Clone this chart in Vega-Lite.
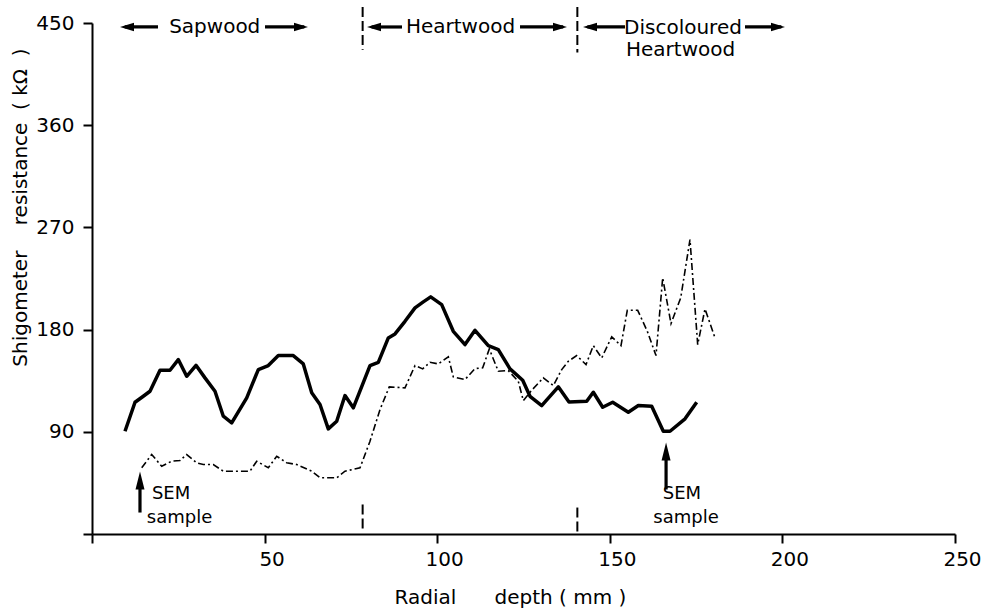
{
  "$schema": "https://vega.github.io/schema/vega-lite/v6.json",
  "width": 863,
  "height": 511,
  "autosize": {"type": "none"},
  "padding": {"left": 92, "top": 23, "right": 44, "bottom": 77},
  "background": "white",
  "config": {
    "view": {"stroke": null},
    "font": "DejaVu Sans",
    "axis": {
      "grid": false,
      "domainColor": "black",
      "domainWidth": 2,
      "tickColor": "black",
      "tickWidth": 2,
      "tickSize": 9,
      "labelColor": "black",
      "labelFont": "DejaVu Sans",
      "labelFontSize": 20,
      "labelFlush": false,
      "labelOverlap": false,
      "titleColor": "black",
      "titleFont": "DejaVu Sans",
      "titleFontSize": 20,
      "titleFontWeight": "normal"
    }
  },
  "datasets": {
    "thick": [
      {"d": 9.56, "r": 90.5}, {"d": 12.46, "r": 116.0}, {"d": 14.86, "r": 121.3}, {"d": 16.8, "r": 125.7},
      {"d": 19.7, "r": 144.2}, {"d": 22.6, "r": 144.2}, {"d": 25.0, "r": 153.6}, {"d": 27.43, "r": 138.9},
      {"d": 30.13, "r": 148.6}, {"d": 32.73, "r": 137.5}, {"d": 35.63, "r": 125.7}, {"d": 38.04, "r": 103.7},
      {"d": 40.47, "r": 97.9}, {"d": 44.82, "r": 119.9}, {"d": 48.18, "r": 144.8}, {"d": 51.07, "r": 148.3},
      {"d": 53.97, "r": 157.1}, {"d": 58.31, "r": 157.1}, {"d": 61.21, "r": 149.8}, {"d": 63.65, "r": 124.3},
      {"d": 66.05, "r": 114.0}, {"d": 68.45, "r": 92.6}, {"d": 70.89, "r": 99.3}, {"d": 73.29, "r": 121.9},
      {"d": 75.7, "r": 111.1}, {"d": 80.53, "r": 148.3}, {"d": 82.94, "r": 151.2}, {"d": 85.84, "r": 172.7},
      {"d": 87.78, "r": 176.2}, {"d": 90.67, "r": 187.3}, {"d": 93.57, "r": 199.1}, {"d": 95.97, "r": 204.4},
      {"d": 98.12, "r": 208.8}, {"d": 101.3, "r": 202.0}, {"d": 104.66, "r": 178.5}, {"d": 108.05, "r": 166.8},
      {"d": 110.95, "r": 179.4}, {"d": 114.8, "r": 165.9}, {"d": 117.7, "r": 162.4}, {"d": 121.09, "r": 145.4},
      {"d": 124.77, "r": 135.4}, {"d": 126.88, "r": 121.3}, {"d": 130.27, "r": 113.1}, {"d": 135.08, "r": 129.6},
      {"d": 138.18, "r": 116.2}, {"d": 143.31, "r": 116.9}, {"d": 145.22, "r": 124.8}, {"d": 147.94, "r": 111.6},
      {"d": 150.84, "r": 116.0}, {"d": 155.36, "r": 107.2}, {"d": 158.26, "r": 113.1}, {"d": 162.14, "r": 112.5},
      {"d": 165.5, "r": 90.5}, {"d": 167.44, "r": 90.5}, {"d": 171.79, "r": 101.4}, {"d": 175.17, "r": 116.0}
    ],
    "dashdot": [
      {"d": 14.4, "r": 58.3}, {"d": 17.29, "r": 70.0}, {"d": 20.19, "r": 59.7}, {"d": 23.09, "r": 64.1},
      {"d": 25.49, "r": 64.7}, {"d": 27.43, "r": 70.0}, {"d": 30.33, "r": 62.7}, {"d": 32.24, "r": 61.2},
      {"d": 35.14, "r": 61.2}, {"d": 38.04, "r": 55.3}, {"d": 45.77, "r": 55.3}, {"d": 47.71, "r": 64.1},
      {"d": 51.07, "r": 58.3}, {"d": 53.51, "r": 68.5}, {"d": 56.4, "r": 62.7}, {"d": 59.3, "r": 61.2},
      {"d": 63.65, "r": 55.3}, {"d": 66.05, "r": 49.5}, {"d": 70.89, "r": 49.5}, {"d": 73.29, "r": 55.3},
      {"d": 77.64, "r": 58.3}, {"d": 80.53, "r": 81.7}, {"d": 83.43, "r": 109.6}, {"d": 86.12, "r": 129.6},
      {"d": 90.67, "r": 128.7}, {"d": 93.57, "r": 148.3}, {"d": 95.8, "r": 145.4}, {"d": 97.91, "r": 151.2},
      {"d": 100.32, "r": 149.8}, {"d": 103.22, "r": 156.0}, {"d": 104.66, "r": 138.4}, {"d": 108.05, "r": 136.0},
      {"d": 110.95, "r": 145.7}, {"d": 113.18, "r": 146.3}, {"d": 115.09, "r": 163.0}, {"d": 117.7, "r": 143.3},
      {"d": 120.6, "r": 143.9}, {"d": 123.49, "r": 134.5}, {"d": 124.94, "r": 117.5}, {"d": 127.38, "r": 126.6},
      {"d": 130.74, "r": 137.5}, {"d": 133.63, "r": 130.7}, {"d": 136.07, "r": 144.8}, {"d": 137.98, "r": 152.1},
      {"d": 140.41, "r": 157.1}, {"d": 143.11, "r": 149.2}, {"d": 145.22, "r": 165.9}, {"d": 147.66, "r": 155.1},
      {"d": 150.55, "r": 173.6}, {"d": 153.24, "r": 165.9}, {"d": 155.07, "r": 197.0}, {"d": 158.08, "r": 197.0},
      {"d": 160.87, "r": 178.5}, {"d": 163.38, "r": 157.1}, {"d": 165.32, "r": 225.5}, {"d": 167.73, "r": 185.3},
      {"d": 170.54, "r": 207.9}, {"d": 173.23, "r": 259.2}, {"d": 175.46, "r": 166.8}, {"d": 177.58, "r": 198.2},
      {"d": 180.48, "r": 172.7}
    ],
    "bounds": [
      {"d": 78.4, "top": 464, "bot": 426.5},
      {"d": 140.6, "top": 464, "bot": 424},
      {"d": 78.4, "top": 26, "bot": 4},
      {"d": 140.6, "top": 23.3, "bot": 2.2}
    ],
    "hshafts": [
      {"a": 9.5, "b": 19.12, "r": 446.5},
      {"a": 50.12, "b": 61.5, "r": 446.5},
      {"a": 81.0, "b": 89.8, "r": 446.5},
      {"a": 123.99, "b": 136.5, "r": 446.5},
      {"a": 143.5, "b": 154.4, "r": 446.5},
      {"a": 189.17, "b": 199.7, "r": 446.5}
    ],
    "vshafts": [
      {"d": 13.9, "a": 18.9, "b": 46},
      {"d": 166.3, "a": 39.2, "b": 72}
    ],
    "heads": [
      {"d": 10.14, "r": 446.5, "s": "M-1,0L1,-0.6L1,0.6Z", "z": 196},
      {"d": 60.54, "r": 446.5, "s": "M1,0L-1,-0.6L-1,0.6Z", "z": 196},
      {"d": 81.69, "r": 446.5, "s": "M-1,0L1,-0.6L1,0.6Z", "z": 196},
      {"d": 135.57, "r": 446.5, "s": "M1,0L-1,-0.6L-1,0.6Z", "z": 196},
      {"d": 144.27, "r": 446.5, "s": "M-1,0L1,-0.6L1,0.6Z", "z": 196},
      {"d": 198.72, "r": 446.5, "s": "M1,0L-1,-0.6L-1,0.6Z", "z": 196},
      {"d": 13.9, "r": 47.1, "s": "M0,-1L-0.5,1L0.5,1Z", "z": 324},
      {"d": 166.3, "r": 72.6, "s": "M0,-1L-0.5,1L0.5,1Z", "z": 324}
    ],
    "toplabels": [
      {"d": 35.55, "r": 446.7, "t": "Sapwood"},
      {"d": 106.75, "r": 446.7, "t": "Heartwood"},
      {"d": 171.2, "r": 445.9, "t": "Discoloured"},
      {"d": 170.5, "r": 426.5, "t": "Heartwood"}
    ],
    "semlabels": [
      {"d": 22.9, "r": 35.2, "t": "SEM"},
      {"d": 25.35, "r": 14.5, "t": "sample"},
      {"d": 170.9, "r": 35.2, "t": "SEM"},
      {"d": 172.1, "r": 14.5, "t": "sample"}
    ]
  },
  "layer": [
    {
      "data": {"name": "thick"},
      "mark": {"type": "line", "color": "black", "strokeWidth": 3.5, "strokeJoin": "round"},
      "encoding": {
        "x": {
          "field": "d", "type": "quantitative",
          "scale": {"domain": [0, 250], "nice": false, "zero": false},
          "axis": {
            "values": [0, 50, 100, 150, 200, 250],
            "labelExpr": "datum.value == 0 ? '' : datum.label",
            "labelOffset": 7,
            "labelPadding": 6,
            "title": "Radial\u00a0\u00a0\u00a0\u00a0\u00a0\u00a0depth\u00a0(\u00a0mm\u00a0)",
            "titleX": 418,
            "titleY": 63,
            "titleAlign": "center",
            "titleBaseline": "middle"
          }
        },
        "y": {
          "field": "r", "type": "quantitative",
          "scale": {"domain": [0, 450], "nice": false, "zero": false},
          "axis": {
            "values": [0, 90, 180, 270, 360, 450],
            "labelExpr": "datum.value == 0 ? '' : datum.label",
            "labelPadding": 9,
            "title": "Shigometer\u00a0\u00a0\u00a0\u00a0resistance\u00a0\u00a0(\u00a0kΩ\u00a0\u00a0)",
            "titleX": -72,
            "titleY": 184,
            "titleAngle": 270,
            "titleAlign": "center",
            "titleBaseline": "middle"
          }
        }
      }
    },
    {
      "data": {"name": "dashdot"},
      "mark": {"type": "line", "color": "black", "strokeWidth": 1.6, "strokeDash": [7, 3, 2, 3]},
      "encoding": {
        "x": {"field": "d", "type": "quantitative"},
        "y": {"field": "r", "type": "quantitative"}
      }
    },
    {
      "data": {"name": "bounds"},
      "mark": {"type": "rule", "color": "black", "strokeWidth": 2, "strokeDash": [10, 4]},
      "encoding": {
        "x": {"field": "d", "type": "quantitative"},
        "y": {"field": "top", "type": "quantitative"},
        "y2": {"field": "bot"}
      }
    },
    {
      "data": {"name": "hshafts"},
      "mark": {"type": "rule", "color": "black", "strokeWidth": 3.2},
      "encoding": {
        "x": {"field": "a", "type": "quantitative"},
        "x2": {"field": "b"},
        "y": {"field": "r", "type": "quantitative"}
      }
    },
    {
      "data": {"name": "vshafts"},
      "mark": {"type": "rule", "color": "black", "strokeWidth": 3.2},
      "encoding": {
        "x": {"field": "d", "type": "quantitative"},
        "y": {"field": "a", "type": "quantitative"},
        "y2": {"field": "b"}
      }
    },
    {
      "data": {"name": "heads"},
      "mark": {"type": "point", "filled": true, "color": "black", "opacity": 1, "strokeWidth": 0},
      "encoding": {
        "x": {"field": "d", "type": "quantitative"},
        "y": {"field": "r", "type": "quantitative"},
        "shape": {"field": "s", "type": "nominal", "scale": null},
        "size": {"field": "z", "type": "quantitative", "scale": null}
      }
    },
    {
      "data": {"name": "toplabels"},
      "mark": {"type": "text", "font": "DejaVu Sans", "fontSize": 20, "color": "black", "align": "center", "baseline": "middle"},
      "encoding": {
        "x": {"field": "d", "type": "quantitative"},
        "y": {"field": "r", "type": "quantitative"},
        "text": {"field": "t", "type": "nominal"}
      }
    },
    {
      "data": {"name": "semlabels"},
      "mark": {"type": "text", "font": "DejaVu Sans", "fontSize": 18, "color": "black", "align": "center", "baseline": "middle"},
      "encoding": {
        "x": {"field": "d", "type": "quantitative"},
        "y": {"field": "r", "type": "quantitative"},
        "text": {"field": "t", "type": "nominal"}
      }
    }
  ]
}
